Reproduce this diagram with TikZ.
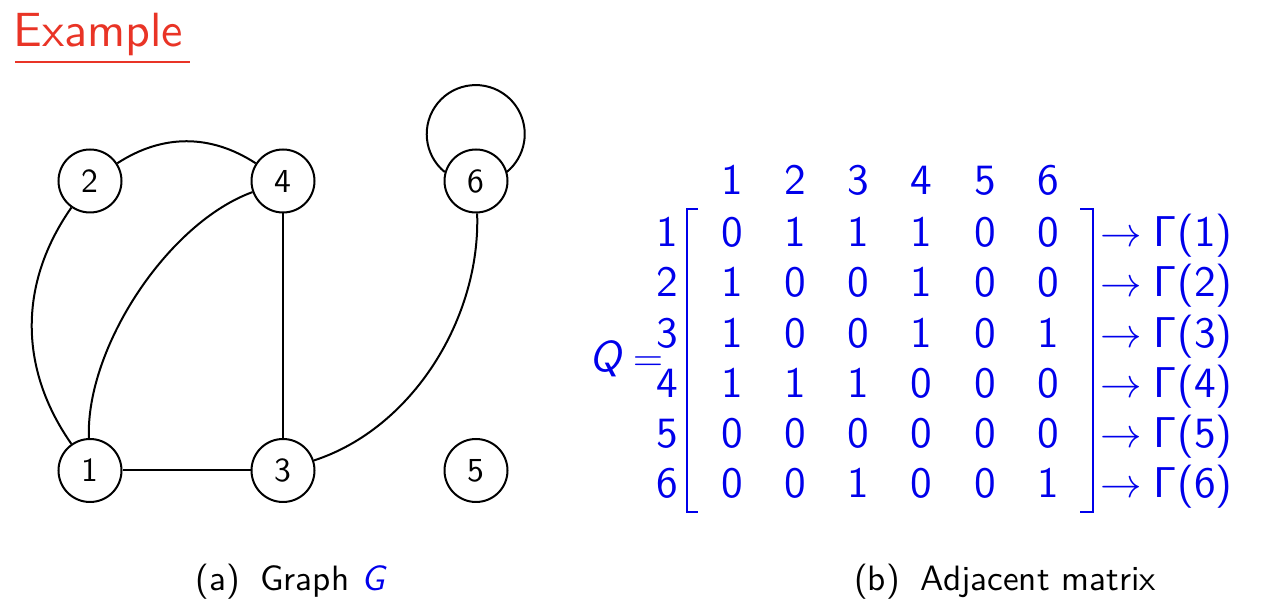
\documentclass[tikz,border=0pt]{standalone}
\usepackage{fontspec}
\setsansfont{lmsans10-regular.otf}[ItalicFont=lmsans10-oblique.otf]
\usepackage{xcolor}
\definecolor{exred}{RGB}{233,52,38}
\definecolor{matblue}{RGB}{0,0,235}
\begin{document}
\begin{tikzpicture}[x=0.5pt,y=0.5pt,
  vtx/.style={circle,draw,line width=1pt,minimum size=31.5pt,inner sep=0pt,font=\sffamily\fontsize{16.8}{20}\selectfont},
  lnk/.style={line width=1pt},
  ent/.style={text=matblue,font=\sffamily\fontsize{21.6}{26}\selectfont,inner sep=0pt,anchor=base},
  rlab/.style={ent,anchor=base east},
  gam/.style={ent,anchor=base west},
  brk/.style={draw=matblue,line width=1.4pt},
  captxt/.style={font=\sffamily\fontsize{17.6}{21}\selectfont,inner sep=0pt,anchor=base}]
\useasboundingbox (0,0) rectangle (1270,616);

% title
\node[anchor=base west,inner sep=0pt,text=exred,font=\sffamily\fontsize{24}{29}\selectfont] (ttl) at (13,569.3) {Example};
\coordinate (ul1) at (15,554);
\coordinate (ul2) at (190,554);
\draw[exred,line width=1.35pt] (ul1) -- (ul2);

% graph
\node[vtx] (n1) at (90,145.5) {1};
\node[vtx] (n2) at (90,435) {2};
\node[vtx] (n3) at (283,145.5) {3};
\node[vtx] (n4) at (283,435) {4};
\node[vtx] (n5) at (476,145.5) {5};
\node[vtx] (n6) at (476,435) {6};

\draw[lnk] (n1) -- (n3);
\draw[lnk] (n4) -- (n3);
\draw[lnk] (n2) to[bend left=33] (n4);
\draw[lnk] (n2) to[bend right=35] (n1);
\draw[lnk] (n1) to[out=92,in=200,looseness=0.78] (n4);
\draw[lnk] (n3) to[out=18,in=-88,looseness=0.9] (n6);
\draw[lnk] (n6.164) arc[start angle=230.8,end angle=-50.8,radius=24.5pt];

\node[captxt] (capa) at (290,25) {(a)\hspace{4.5pt} Graph \textcolor{matblue}{\itshape G}};

% matrix
\foreach \c [count=\i] in {1,...,6}{
  \node[ent] (h\i) at ({732+63.2*(\i-1)},421.8) {\c};
}
\foreach \r [count=\j] in {{0,1,1,1,0,0},{1,0,0,1,0,0},{1,0,0,1,0,1},{1,1,1,0,0,0},{0,0,0,0,0,0},{0,0,1,0,0,1}}{
  \node[rlab] (r\j) at (678,{369.3-50.2*(\j-1)}) {\j};
  \foreach \v [count=\i] in \r {
    \node[ent] (m\j\i) at ({732+63.2*(\i-1)},{369.3-50.2*(\j-1)}) {\v};
  }
  \node[gam] (g\j) at (1100,{369.3-50.2*(\j-1)}) {$\rightarrow$\hspace{6pt}Γ(\j)};
}
\draw[brk] (698,407) -- (687,407) -- (687,104) -- (698,104);
\draw[brk] (1080,407) -- (1093,407) -- (1093,104) -- (1080,104);

\node[ent,anchor=base west] (Q) at (589,244) {{\itshape Q}\hspace{6pt}$=$};

\node[captxt] (capb) at (1005,25) {(b)\hspace{4.5pt} Adjacent matrix};
\end{tikzpicture}
\end{document}
